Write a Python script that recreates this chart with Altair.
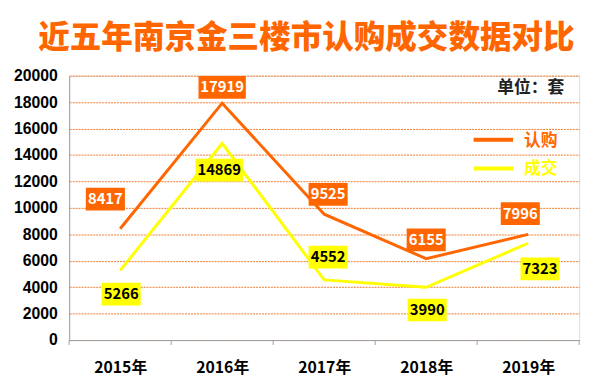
import altair as alt
import pandas as pd

years = ["2015年", "2016年", "2017年", "2018年", "2019年"]
subscribe = [8417, 17919, 9525, 6155, 7996]   # 认购
deal = [5266, 14869, 4552, 3990, 7323]         # 成交
series_names = ["认购", "成交"]
y_ticks = [0, 2000, 4000, 6000, 8000, 10000, 12000, 14000, 16000, 18000, 20000]

# label box offsets (pixels) relative to each data point
sub_dx = [-15, 0, 4, 0, -8]
sub_dy = [-30, -16, -20, -19, -21]
deal_dx = [1, -3, 4, 1, 12]
deal_dy = [24, 27, -23, 23, 26]

ORANGE = "#FF6600"
YELLOW = "#FFFF00"
BOX_H = 23
W, H = 517, 268
YMAX = 20000
N = len(years)
px_x = N / W          # data units per pixel (x)
px_y = YMAX / H       # data units per pixel (y)

line_rows, lab_rows = [], []
for i, y in enumerate(years):
    for name, vals, dxs, dys, box, txt in [
        ("认购", subscribe, sub_dx, sub_dy, ORANGE, "white"),
        ("成交", deal, deal_dx, deal_dy, YELLOW, "black"),
    ]:
        line_rows.append({"idx": i, "series": name, "value": vals[i]})
        lab = str(vals[i])
        w = 8.4 * len(lab) + 6
        h = BOX_H / w
        lab_rows.append({
            "idx": i + dxs[i] * px_x, "value": vals[i] - dys[i] * px_y,
            "label": lab, "path": f"M-1,-{h:.4f}H1V{h:.4f}H-1Z",
            "size": w * w, "box": box, "txt": txt,
        })
df_line = pd.DataFrame(line_rows)
df_lab = pd.DataFrame(lab_rows)
df_ticks = pd.DataFrame({"idx": [i - 0.5 for i in range(N + 1)]})

FONT_NUM = "Liberation Sans"
FONT_CJK = "Noto Sans CJK SC"

label_expr = "[" + ",".join(f"'{y}'" for y in years) + "][datum.value]"
x_scale = alt.Scale(domain=[-0.5, N - 0.5], nice=False, zero=False)
y_scale = alt.Scale(domain=[0, YMAX], nice=False)

x_axis = alt.Axis(title=None, values=list(range(N)), labelExpr=label_expr,
                  labelAngle=0, labelFont=FONT_CJK, labelFontSize=16,
                  labelFontWeight="bold", labelColor="black", labelPadding=20,
                  tickSize=0, domainColor="#A0A0A0", grid=False)
y_axis = alt.Axis(title=None, values=y_ticks, format="d", labelFont=FONT_NUM,
                  labelFontSize=16, labelFontWeight="bold",
                  labelColor="black", labelPadding=12, tickSize=0,
                  domainColor="#A0A0A0", grid=True,
                  gridColor="#F27A2A", gridDash=[2, 1], gridWidth=1)

X = alt.X("idx:Q", scale=x_scale, axis=x_axis)
Y = alt.Y("value:Q", scale=y_scale, axis=y_axis)

lines = alt.Chart(df_line).mark_line(strokeWidth=3).encode(
    x=X, y=Y,
    color=alt.Color("series:N",
                    scale=alt.Scale(domain=series_names, range=[ORANGE, YELLOW]),
                    legend=None),
    detail="series:N",
)

ticks = alt.Chart(df_ticks).mark_rule(color="#A0A0A0", strokeWidth=1).encode(
    x=X, y=alt.value(H), y2=alt.value(H + 5),
)

lab_base = alt.Chart(df_lab).encode(x=X, y=Y)
boxes = lab_base.mark_point(filled=True, opacity=1, strokeWidth=0).encode(
    shape=alt.Shape("path:N", scale=None),
    size=alt.Size("size:Q", scale=None),
    fill=alt.Fill("box:N", scale=None),
)
texts = lab_base.mark_text(font=FONT_CJK, fontSize=15, fontWeight="bold",
                           baseline="middle", align="center").encode(
    text="label:N",
    color=alt.Color("txt:N", scale=None),
)

dummy = alt.Chart(pd.DataFrame({"a": [0]}))
unit = dummy.mark_text(font=FONT_CJK, fontSize=17, fontWeight="bold",
                       color="#222222", align="right", baseline="middle").encode(
    x=alt.value(502), y=alt.value(13), text=alt.value("单位：套"))
leg1 = dummy.mark_rule(color=ORANGE, strokeWidth=4).encode(
    x=alt.value(410), x2=alt.value(450), y=alt.value(65))
leg2 = dummy.mark_rule(color=YELLOW, strokeWidth=4).encode(
    x=alt.value(410), x2=alt.value(450), y=alt.value(94))
leg1t = dummy.mark_text(font=FONT_CJK, fontSize=17, fontWeight="bold",
                        color=ORANGE, align="left", baseline="middle").encode(
    x=alt.value(461), y=alt.value(66), text=alt.value("认购"))
leg2t = dummy.mark_text(font=FONT_CJK, fontSize=17, fontWeight="bold",
                        color=YELLOW, align="left", baseline="middle").encode(
    x=alt.value(461), y=alt.value(95), text=alt.value("成交"))

chart = alt.layer(lines, ticks, boxes, texts, unit, leg1, leg2, leg1t, leg2t).properties(
    width=W, height=H,
    autosize=alt.AutoSizeParams(type="none"),
    padding={"left": 62, "top": 66, "right": 13, "bottom": 47},
    title=alt.TitleParams("近五年南京金三楼市认购成交数据对比", font=FONT_CJK,
                          fontSize=32, fontWeight=900, color=ORANGE,
                          anchor="middle", offset=13, dx=-18),
).configure_view(fill="#FCD5B4", stroke=None).configure(background="white")

chart.save("out.html", embed_options={"renderer": "svg", "actions": False})
